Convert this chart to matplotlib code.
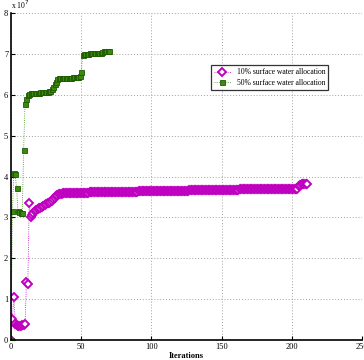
import numpy as np
import matplotlib.pyplot as plt

# objective value (x 10^7) per iteration
low_alloc = [
    0.00, 0.52, 1.05, 0.38, 0.36, 0.35, 0.35, 0.35, 0.36, 0.37,
    0.38, 1.41, 1.37, 3.36, 3.00, 3.06, 3.11, 3.15, 3.18, 3.20,
    3.22, 3.24, 3.26, 3.28, 3.30, 3.32, 3.34, 3.36, 3.38, 3.41,
    3.44, 3.48, 3.52, 3.55, 3.575,
    3.582, 3.584, 3.586, 3.588, 3.590, 3.591, 3.593, 3.594, 3.596, 3.597,
    3.598, 3.599, 3.600, 3.601, 3.602, 3.603, 3.604, 3.605, 3.606, 3.607,
    3.608, 3.609, 3.610, 3.610, 3.611, 3.612, 3.613, 3.614, 3.614, 3.615,
    3.616, 3.617, 3.617, 3.618, 3.619, 3.620, 3.620, 3.621, 3.622, 3.622,
    3.623, 3.624, 3.624, 3.625, 3.626, 3.626, 3.627, 3.628, 3.628, 3.629,
    3.630, 3.630, 3.631, 3.632, 3.632, 3.633, 3.634, 3.634, 3.635, 3.636,
    3.636, 3.637, 3.638, 3.638, 3.639, 3.640, 3.640, 3.641, 3.642, 3.642,
    3.643, 3.644, 3.644, 3.645, 3.646, 3.646, 3.647, 3.648, 3.648, 3.649,
    3.650, 3.650, 3.651, 3.652, 3.652, 3.653, 3.654, 3.654, 3.655, 3.656,
    3.656, 3.657, 3.658, 3.658, 3.659, 3.660, 3.660, 3.661, 3.662, 3.662,
    3.663, 3.664, 3.664, 3.665, 3.666, 3.666, 3.667, 3.668, 3.668, 3.669,
    3.670, 3.670, 3.671, 3.672, 3.672, 3.673, 3.674, 3.674, 3.675, 3.676,
    3.676, 3.677, 3.678, 3.678, 3.679, 3.680, 3.680, 3.681, 3.682, 3.682,
    3.683, 3.684, 3.684, 3.685, 3.686, 3.686, 3.687, 3.688, 3.688, 3.689,
    3.690, 3.690, 3.691, 3.692, 3.692, 3.693, 3.694, 3.694, 3.695, 3.695,
    3.696, 3.696, 3.697, 3.697, 3.698, 3.698, 3.699, 3.699, 3.700, 3.700,
    3.701, 3.701, 3.702, 3.702, 3.703, 3.703, 3.704, 3.704, 3.705, 3.705,
    3.760, 3.800, 3.805, 3.808, 3.810, 3.812, 3.812,
]

high_alloc = [
    0.00, 3.15, 4.08, 4.05, 3.71, 3.15, 3.12, 3.10, 3.11, 4.65,
    5.78, 5.90, 6.00, 6.03, 6.04, 6.04, 6.05, 6.05, 6.05, 6.05,
    6.05, 6.06, 6.06, 6.06, 6.06, 6.07, 6.07, 6.08, 6.10, 6.14,
    6.20, 6.26, 6.30, 6.38, 6.41, 6.42, 6.42, 6.42, 6.42, 6.42,
    6.42, 6.42, 6.42, 6.42, 6.43, 6.43, 6.43, 6.43, 6.43, 6.45,
    6.55, 6.97, 6.99, 7.00, 7.00, 7.00, 7.01, 7.01, 7.01, 7.01,
    7.01, 7.02, 7.02, 7.02, 7.03, 7.05, 7.06, 7.07, 7.07, 7.07,
    7.07,
]

series_labels = ['10% surface water allocation', '50% surface water allocation']

plt.rcParams['font.family'] = ['Liberation Serif', 'DejaVu Serif']

fig = plt.figure(figsize=(3.64, 3.60), dpi=100)
ax = fig.add_axes([11/364, 20/360, 351/364, 327/360])

ax.plot(np.arange(len(low_alloc)), low_alloc, linestyle=':', linewidth=0.6,
        color='#c000c0', marker='D', markersize=4.2, markerfacecolor='white',
        markeredgecolor='#c000c0', markeredgewidth=1.4, label=series_labels[0])
ax.plot(np.arange(len(high_alloc)), high_alloc, linestyle=':', linewidth=0.6,
        color='#3a8a10', marker='s', markersize=3.6, markerfacecolor='#3a8a10',
        markeredgecolor='#1e5a00', markeredgewidth=0.6, label=series_labels[1])

ax.set_xlim(0, 250)
ax.set_ylim(0, 8)
ax.set_xticks([0, 50, 100, 150, 200, 250])
ax.set_yticks(range(9))
ax.grid(True, linestyle=(0, (1, 2)), color='#a0a0a0', linewidth=0.7)
ax.set_axisbelow(True)

for s in ['top', 'right']:
    ax.spines[s].set_visible(False)
for s in ['left', 'bottom']:
    ax.spines[s].set_linewidth(1.2)

ax.tick_params(direction='in', length=3, width=0.8, labelsize=6, pad=2)
ax.set_xlabel('Iterations', fontsize=6, fontweight='bold', labelpad=1)

ax.text(0, 8.05, r'x 10$^7$', fontsize=5.5, ha='left', va='bottom')

leg = ax.legend(loc='upper left', bbox_to_anchor=(0.558, 0.852), fontsize=5.5,
                frameon=True, fancybox=False, edgecolor='black',
                borderpad=0.4, handlelength=2.2, labelspacing=0.3)
leg.get_frame().set_linewidth(0.9)

fig.savefig('out.png', dpi=100)
